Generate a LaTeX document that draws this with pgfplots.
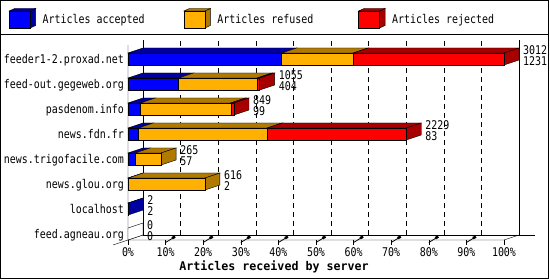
\documentclass[border=0pt]{standalone}
\usepackage{pgfplots}
\pgfplotsset{compat=1.18}
\usepackage{fontspec}
\setmainfont{DejaVu Sans Mono}[FakeStretch=0.83]
\newfontfamily\titlefont{DejaVu Sans Mono}[FakeStretch=0.97]
\definecolor{accF}{RGB}{0,0,255}
\definecolor{accD}{RGB}{0,0,160}
\definecolor{refF}{RGB}{255,176,0}
\definecolor{refD}{RGB}{176,122,0}
\definecolor{rejF}{RGB}{255,0,0}
\definecolor{rejD}{RGB}{168,0,0}
% depth of the 3-D bars in data units (15px in x, 0.2 row in y)
\newcommand\DX{120.16}
% \prism{row}{start}{value}{colour prefix}
\newcommand\prism[4]{%
 \pgfmathsetmacro\Xa{#2}%
 \pgfmathsetmacro\Xb{#2+#3}%
 \pgfmathsetmacro\Xc{#2+#3+\DX}%
 \pgfmathsetmacro\Xd{#2+\DX}%
 \pgfmathsetmacro\Yt{#1-0.24}%
 \pgfmathsetmacro\Yb{#1+0.24}%
 \pgfmathsetmacro\Ytt{#1-0.44}%
 \pgfmathsetmacro\Ybb{#1+0.04}%
 \edef\doprism{%
  \noexpand\addplot[forget plot, fill=#4D, draw=black] coordinates {(\Xa,\Yt) (\Xb,\Yt) (\Xc,\Ytt) (\Xd,\Ytt)} --cycle;
  \noexpand\addplot[forget plot, fill=#4D, draw=black] coordinates {(\Xb,\Yb) (\Xb,\Yt) (\Xc,\Ytt) (\Xc,\Ybb)} --cycle;
  \noexpand\addplot[forget plot, fill=#4F, draw=black] coordinates {(\Xa,\Yb) (\Xb,\Yb) (\Xb,\Yt) (\Xa,\Yt)} --cycle;
 }\doprism}
% dashed grid line on the back wall at x = #1
\newcommand\gridline[1]{%
 \pgfmathsetmacro\Xg{#1+\DX}%
 \edef\dogrid{\noexpand\addplot[forget plot, black, dash pattern=on 5pt off 4pt] coordinates {(\Xg,7.04) (\Xg,-0.76)};}\dogrid}
\newcommand\cube[2]{%
 \draw[fill=#2] (21pt,-8.5pt) -- (26.5pt,-6pt) -- (26.5pt,11pt) -- (21pt,8.5pt) -- cycle;
 \draw[fill=#2] (0pt,8.5pt) -- (5.5pt,11pt) -- (26.5pt,11pt) -- (21pt,8.5pt) -- cycle;
 \draw[fill=#1] (0pt,-8.5pt) rectangle (21pt,8.5pt);}
\begin{document}
\fontsize{12pt}{13pt}\selectfont
\begin{tikzpicture}[line width=1pt]
\useasboundingbox (0,0) rectangle (550pt,280pt);
\draw (0.5pt,1.5pt) rectangle (548.5pt,279.5pt);
\draw (0pt,245pt) -- (548pt,245pt);
\begin{axis}[
  scale only axis, width=376pt, height=195pt,
  at={(128pt,40pt)}, anchor=south west,
  xmin=0, xmax=3012, ymin=-0.56, ymax=7.24, y dir=reverse,
  clip=false,
  axis line style={draw=none}, tick style={draw=none}, major tick length=0pt,
  xtick={0,301.2,602.4,903.6,1204.8,1506,1807.2,2108.4,2409.6,2710.8,3012},
  xticklabels={0\%,10\%,20\%,30\%,40\%,50\%,60\%,70\%,80\%,90\%,100\%},
  xticklabel style={anchor=center, inner sep=0pt, yshift=-12.5pt},
  ytick={0,1,2,3,4,5,6,7},
  yticklabels={feeder1-2.proxad.net,feed-out.gegeweb.org,pasdenom.info,news.fdn.fr,news.trigofacile.com,news.glou.org,localhost,feed.agneau.org},
  yticklabel style={anchor=base east, inner sep=0pt, xshift=-4pt, yshift=-4.4pt},
  xlabel={\titlefont\bfseries Articles received by server},
  xlabel style={at={(axis description cs:0.3883,-0.137)}, anchor=center, inner sep=0pt},
  legend columns=3,
  legend cell align=left,
  legend style={at={(-0.3165,1.1372)}, anchor=west, draw=none, fill=none,
    inner sep=0pt, outer sep=0pt, column sep=6.8pt, nodes={inner sep=0pt}},
]
% legend
\addlegendimage{legend image code/.code={\cube{accF}{accD}}}
\addlegendentry{\makebox[134.2pt][l]{Articles accepted}}
\addlegendimage{legend image code/.code={\cube{refF}{refD}}}
\addlegendentry{\makebox[134.2pt][l]{Articles refused}}
\addlegendimage{legend image code/.code={\cube{rejF}{rejD}}}
\addlegendentry{\makebox[134.2pt][l]{Articles rejected}}
% grid on the back wall (behind the bars)
\gridline{301.2}\gridline{602.4}\gridline{903.6}\gridline{1204.8}\gridline{1506}
\gridline{1807.2}\gridline{2108.4}\gridline{2409.6}\gridline{2710.8}
% walls and floor
\addplot[forget plot, black] coordinates {(120.16,7.04) (120.16,-0.76)};
\addplot[forget plot, black] coordinates {(3132.16,7.04) (3132.16,-0.76)};
\addplot[forget plot, black] coordinates {(120.16,7.04) (3260.3,7.04)};
\addplot[forget plot, black] coordinates {(0,-0.56) (0,7.24) (3012,7.24) (3132.16,7.04)};
\addplot[forget plot, black] coordinates {(-120.16,7.44) (120.16,7.04)};
% bars: row, start, value
\prism{0}{0}{1231}{acc}
\prism{0}{1231}{574}{ref}
\prism{0}{1805}{1207}{rej}
\prism{1}{0}{404}{acc}
\prism{1}{404}{632}{ref}
\prism{1}{1036}{19}{rej}
\prism{2}{0}{99}{acc}
\prism{2}{99}{724}{ref}
\prism{2}{823}{26}{rej}
\prism{3}{0}{83}{acc}
\prism{3}{83}{1033}{ref}
\prism{3}{1116}{1113}{rej}
\prism{4}{0}{57}{acc}
\prism{4}{57}{208}{ref}
\prism{5}{0}{2}{acc}
\prism{5}{2}{614}{ref}
\prism{6}{0}{2}{acc}
\addplot[forget plot, fill=white, draw=black] coordinates {(0,7.24) (0,6.76) (120.16,6.56) (120.16,7.04)} --cycle;
% ticks on the floor
\pgfplotsinvokeforeach{0,301.2,602.4,903.6,1204.8,1506,1807.2,2108.4,2409.6,2710.8,3012}{
  \draw (axis cs:#1,7.24) -- ([shift={(0pt,-5pt)}]axis cs:#1,7.24);}
\pgfplotsinvokeforeach{301.2,602.4,903.6,1204.8,1506,1807.2,2108.4,2409.6,2710.8}{
  \draw[line width=0.8pt] ([shift={(0pt,-2.5pt)}]axis cs:#1,7.24) -- ([shift={(9pt,3pt)}]axis cs:#1,7.24);
  \draw[line width=2.6pt] ([shift={(6.5pt,1.8pt)}]axis cs:#1,7.24) -- ([shift={(9.5pt,3.4pt)}]axis cs:#1,7.24);}
% value labels: offered / accepted
\tikzset{vl/.style={anchor=west, inner sep=0pt, xshift=19pt}}
\node[vl, yshift=9pt] at (axis cs:3012,0) {3012};
\node[vl, yshift=-2pt] at (axis cs:3012,0) {1231};
\node[vl, yshift=9pt] at (axis cs:1055,1) {1055};
\node[vl, yshift=-2pt] at (axis cs:1055,1) {404};
\node[vl, yshift=9pt] at (axis cs:849,2) {849};
\node[vl, yshift=-2pt] at (axis cs:849,2) {99};
\node[vl, yshift=9pt] at (axis cs:2229,3) {2229};
\node[vl, yshift=-2pt] at (axis cs:2229,3) {83};
\node[vl, yshift=9pt] at (axis cs:265,4) {265};
\node[vl, yshift=-2pt] at (axis cs:265,4) {57};
\node[vl, yshift=9pt] at (axis cs:616,5) {616};
\node[vl, yshift=-2pt] at (axis cs:616,5) {2};
\node[vl, yshift=9pt] at (axis cs:2,6) {2};
\node[vl, yshift=-2pt] at (axis cs:2,6) {2};
\node[vl, yshift=9pt] at (axis cs:0,7) {0};
\node[vl, yshift=-2pt] at (axis cs:0,7) {0};
\end{axis}
\end{tikzpicture}
\end{document}
